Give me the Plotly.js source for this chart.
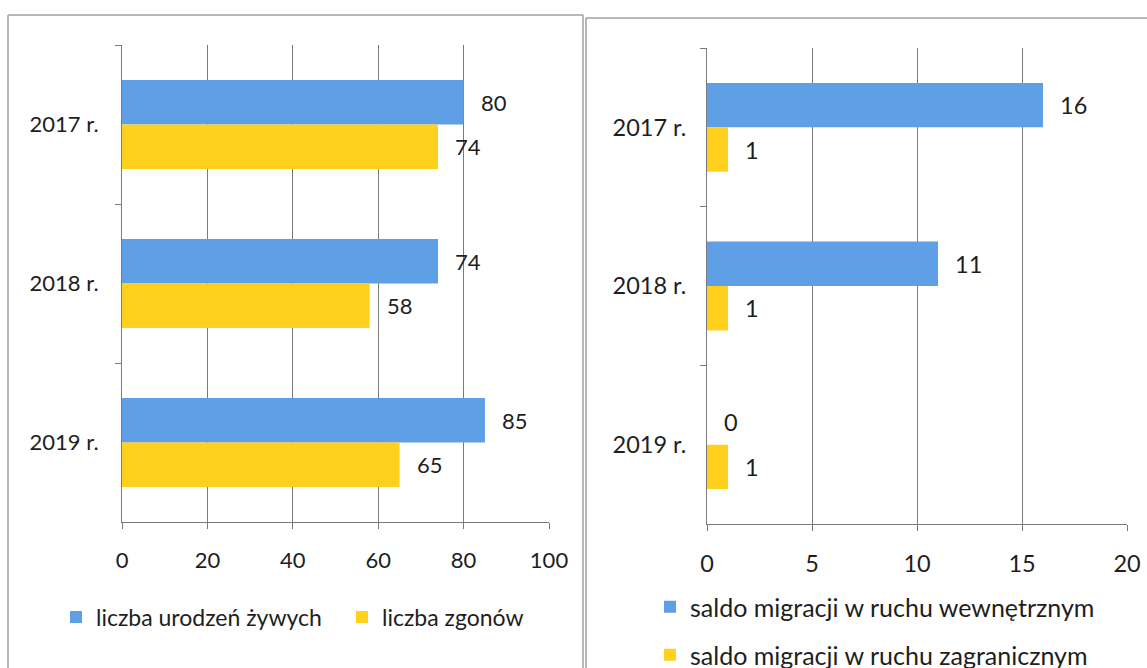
<!DOCTYPE html>
<html><head><meta charset="utf-8">
<script src="https://cdn.plot.ly/plotly-3.0.1.min.js"></script>
<style>html,body{margin:0;padding:0;background:#fff}#chart{width:1147px;height:668px}</style>
</head><body><div id="chart"></div>
<script>
// ---- data ----
const years = ['2017 r.', '2018 r.', '2019 r.'];
const births = [80, 74, 85];
const deaths = [74, 58, 65];
const migInternal = [16, 11, 0];
const migForeign = [1, 1, 1];
const leftTicks = [0, 20, 40, 60, 80, 100];
const rightTicks = [0, 5, 10, 15, 20];
const nameBirths = 'liczba urodzeń żywych';
const nameDeaths = 'liczba zgonów';
const nameInternal = 'saldo migracji w ruchu wewnętrznym';
const nameForeign = 'saldo migracji w ruchu zagranicznym';

// ---- style ----
const W = 1147, H = 668;
const BLUE = '#5e9fe6', YELLOW = '#ffd11c';
const FONT = 'Lato, "Open Sans", sans-serif';
const FS_L = 22, FS_R = 23.5, LFS_L = 23, LFS_R = 25;
const TXT = '#1e1e1e';
const GRID = '#7a7a7a';
const BARGAP = 0.44;
const px = v => v / W, py = v => 1 - v / H;

const traces = [
  {type:'bar', orientation:'h', y:years, x:births, name:nameBirths, marker:{color:BLUE}, xaxis:'x', yaxis:'y', legend:'legend', hoverinfo:'x'},
  {type:'bar', orientation:'h', y:years, x:deaths, name:nameDeaths, marker:{color:YELLOW}, xaxis:'x', yaxis:'y', legend:'legend4', hoverinfo:'x'},
  {type:'bar', orientation:'h', y:years, x:migInternal, name:nameInternal, marker:{color:BLUE}, xaxis:'x2', yaxis:'y2', legend:'legend2', hoverinfo:'x'},
  {type:'bar', orientation:'h', y:years, x:migForeign, name:nameForeign, marker:{color:YELLOW}, xaxis:'x2', yaxis:'y2', legend:'legend3', hoverinfo:'x'}
];

// data labels
const annotations = [];
const off = (1 - BARGAP) / 4;
function addLabels(vals, xref, yref, sign, fs) {
  vals.forEach((v, i) => annotations.push({
    x: v, y: i + sign * off, xref: xref, yref: yref, text: String(v),
    showarrow: false, xanchor: 'left', yanchor: 'middle', xshift: 15,
    font: {family: FONT, size: fs, color: TXT}
  }));
}
addLabels(births, 'x', 'y', -1, FS_L);
addLabels(deaths, 'x', 'y', 1, FS_L);
addLabels(migInternal, 'x2', 'y2', -1, FS_R);
addLabels(migForeign, 'x2', 'y2', 1, FS_R);

const xBase = {
  showgrid: true, gridcolor: GRID, gridwidth: 1, zeroline: false,
  showline: true, linecolor: GRID, linewidth: 1,
  ticks: 'outside', ticklen: 6, tickcolor: GRID, ticklabelstandoff: 13,
  fixedrange: true
};
const yBase = {
  type: 'category', categoryorder: 'array', categoryarray: years, autorange: 'reversed',
  showgrid: false, zeroline: false, showline: true, linecolor: GRID, linewidth: 1,
  ticks: 'outside', ticklen: 6, tickcolor: GRID, tickson: 'boundaries',
  fixedrange: true
};

const legendBase = {
  orientation: 'h', bgcolor: 'rgba(0,0,0,0)',
  xanchor: 'left', yanchor: 'middle', itemclick: false, itemdoubleclick: false
};
const lf = s => ({font: {family: FONT, size: s, color: TXT}});

const frame = {color: '#a0a0a0', width: 1.5};
const shapes = [
  {type:'line', xref:'paper', yref:'paper', x0:px(8), x1:px(583), y0:py(15), y1:py(15), line:frame},
  {type:'line', xref:'paper', yref:'paper', x0:px(8), x1:px(8), y0:py(15), y1:py(668), line:frame},
  {type:'line', xref:'paper', yref:'paper', x0:px(583), x1:px(583), y0:py(15), y1:py(668), line:frame},
  {type:'line', xref:'paper', yref:'paper', x0:px(586), x1:px(586), y0:py(18), y1:py(668), line:frame},
  {type:'line', xref:'paper', yref:'paper', x0:px(586), x1:px(1147), y0:py(18), y1:py(18), line:frame}
];

const layout = {
  width: W, height: H, margin: {l:0, r:0, t:0, b:0, autoexpand: false},
  paper_bgcolor: '#fff', plot_bgcolor: 'rgba(0,0,0,0)',
  barmode: 'group', bargap: BARGAP, bargroupgap: 0,
  showlegend: true,
  xaxis: Object.assign({}, xBase, {domain:[px(122), px(549)], range:[0, 100], tickvals:leftTicks, anchor:'y',
    tickfont:{family:FONT, size:FS_L, color:TXT}}),
  yaxis: Object.assign({}, yBase, {domain:[py(522), py(45)], anchor:'x', ticklabelstandoff: 18,
    tickfont:{family:FONT, size:FS_L, color:TXT}}),
  xaxis2: Object.assign({}, xBase, {domain:[px(707), px(1127)], range:[0, 20], tickvals:rightTicks, anchor:'y2',
    tickfont:{family:FONT, size:FS_R, color:TXT}}),
  yaxis2: Object.assign({}, yBase, {domain:[py(524), py(48)], anchor:'x2', ticklabelstandoff: 15,
    tickfont:{family:FONT, size:FS_R, color:TXT}}),
  legend: Object.assign({}, legendBase, lf(LFS_L), {x: px(56), y: py(617)}),
  legend4: Object.assign({}, legendBase, lf(LFS_L), {x: px(342), y: py(617)}),
  legend2: Object.assign({}, legendBase, lf(LFS_R), {x: px(650), y: py(607)}),
  legend3: Object.assign({}, legendBase, lf(LFS_R), {x: px(650), y: py(655)}),
  annotations: annotations,
  shapes: shapes
};

Plotly.newPlot('chart', traces, layout, {displayModeBar: false});
</script></body></html>
